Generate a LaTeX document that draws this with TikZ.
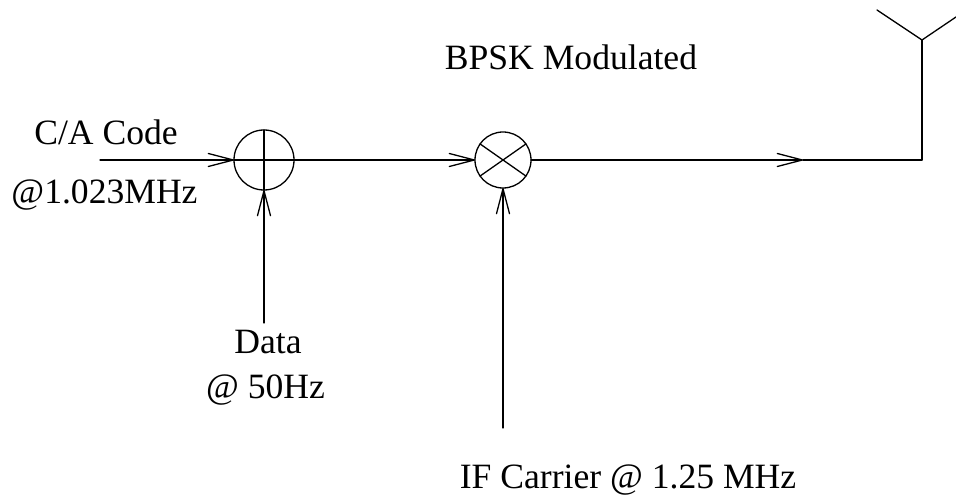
\documentclass[tikz,border=0pt]{standalone}
\usepackage{fontspec}
\setmainfont{Liberation Serif}
\usetikzlibrary{arrows.meta}
\begin{document}
\begin{tikzpicture}[x=1pt, y=1pt, line width=1.3pt, line cap=round,
  sig/.style={-{Straight Barb[length=25pt,width=13pt,line width=1.3pt,round]}},
  lab/.style={font=\fontsize{35.6}{40}\selectfont, inner sep=0pt, anchor=base},
  mixnode/.style={circle, draw, inner sep=0pt, outer sep=0pt}]
\useasboundingbox (0,0) rectangle (956,495);
% summing junction and mixer
\node[mixnode, minimum size=60pt] (sum) at (264,335) {};
\node[mixnode, minimum size=56pt] (mix) at (503,335) {};
\draw (sum.north) -- (sum.south);
\draw (sum.west) -- (sum.east);
\draw (mix.35) -- (mix.215);
\draw (mix.145) -- (mix.325);
% free ends
\coordinate (caend) at (100,335);
\coordinate (dataend) at (264,172);
\coordinate (ifend) at (503,67);
\coordinate (midtip) at (803,335);
\coordinate (corner) at (922,335);
\coordinate (feed) at (922,455);
\coordinate (antl) at (877,485);
\coordinate (antr) at (956,478);
% signal path
\draw[sig] (caend) -- (sum.west);
\draw[sig] (dataend) -- (sum.south);
\draw[sig] (sum.east) -- (mix.west);
\draw[sig] (ifend) -- (mix.south);
\draw[sig] (mix.east) -- (midtip);
\draw (midtip) -- (corner);
\draw (corner) -- (feed);
\draw (feed) -- (antl);
\draw (feed) -- (antr);
% labels
\node[lab] (bpsk) at (571,425) {BPSK Modulated};
\node[lab] (ca) at (106,350) {C/A Code};
\node[lab] (rate) at (104.5,291) {@1.023MHz};
\node[lab] (data) at (268,141) {Data};
\node[lab] (datarate) at (265.5,96) {@ 50Hz};
\node[lab] (carrier) at (628,6) {IF Carrier @ 1.25 MHz};
\end{tikzpicture}
\end{document}
